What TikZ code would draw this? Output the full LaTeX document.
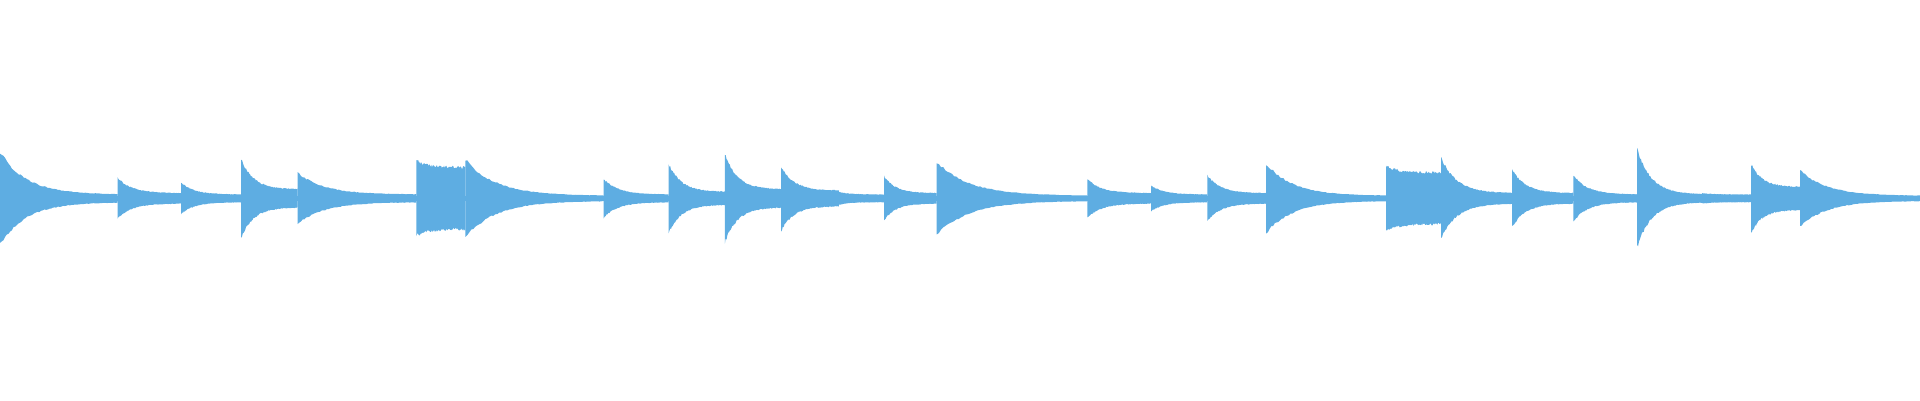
\documentclass[tikz,border=0pt]{standalone}
\usepackage{tikz}
\definecolor{wave}{RGB}{94,173,226}

\begin{document}
\begin{tikzpicture}[x=0.01cm,y=-0.01cm]
        \useasboundingbox (0,0) rectangle (1568,326.7);
        \pgfmathsetseed{7}

        % baseline
        \fill[wave] (0,160) rectangle (1568,164);

        % notes: onset/end/peak/tail
        \foreach \xa/\xb/\amp/\tail in {
            0/96/36/3, 96/148/16/4, 148/197/12/3, 197/243/30/7,
            243/340/20/3, 340/380/29/24, 380/493/30/2, 493/546/15/3,
            546/592/27/5, 592/638/34/7, 638/685/25/6, 685/722/5/3,
            722/765/17/4, 765/888/28/2, 888/940/15/4, 940/986/10/3,
            986/1034/18/4, 1034/1132/27/2, 1132/1177/25/20, 1177/1235/31/4,
            1235/1285/22/4, 1285/1337/18/3, 1337/1390/38/3, 1390/1430/4/3,
            1430/1470/27/9, 1470/1568/22/2}{
            \fill[wave] plot[domain=\xa:\xb,samples=70]
                (\x,{162-(\tail+(\amp-\tail)*exp(-4.5*(\x-\xa)/(\xb-\xa)))*(1+0.1*rnd)})
              -- plot[domain=\xb:\xa,samples=70]
                (\x,{162+(\tail+(\amp-\tail)*exp(-4.5*(\x-\xa)/(\xb-\xa)))*(1+0.1*rnd)})
              -- cycle;
        }
    \end{tikzpicture}
\end{document}
